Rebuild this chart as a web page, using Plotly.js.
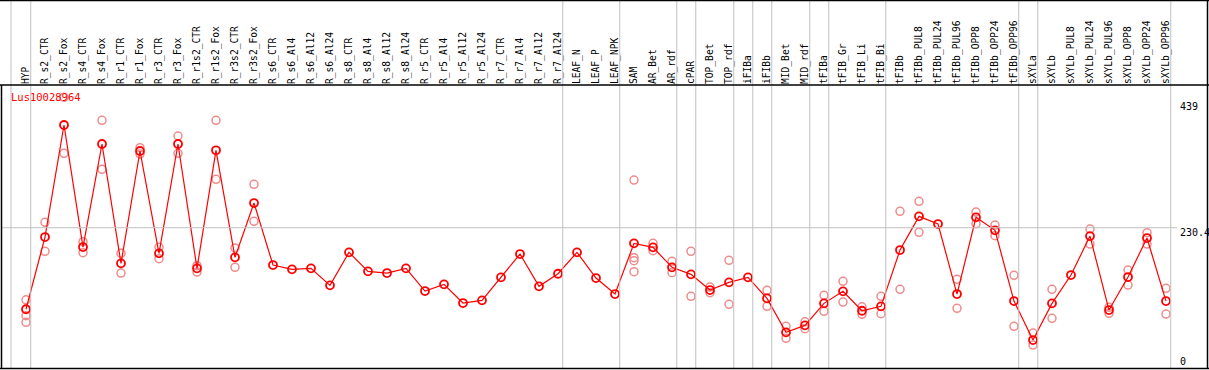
<!DOCTYPE html>
<html>
<head>
<meta charset="utf-8">
<script src="https://cdn.plot.ly/plotly-3.0.1.min.js"></script>
<style>
html,body{margin:0;padding:0;background:#fff;}
#chart{width:1209px;height:370px;}
</style>
</head>
<body>
<div id="chart"></div>
<script>
const geneName = "Lus10028964";
const categories = ["HYP","R_s2_CTR","R_s2_Fox","R_s4_CTR","R_s4_Fox","R_r1_CTR","R_r1_Fox","R_r3_CTR","R_r3_Fox","R_r1s2_CTR","R_r1s2_Fox","R_r3s2_CTR","R_r3s2_Fox","R_s6_CTR","R_s6_Al4","R_s6_Al12","R_s6_Al24","R_s8_CTR","R_s8_Al4","R_s8_Al12","R_s8_Al24","R_r5_CTR","R_r5_Al4","R_r5_Al12","R_r5_Al24","R_r7_CTR","R_r7_Al4","R_r7_Al12","R_r7_Al24","LEAF_N","LEAF_P","LEAF_NPK","SAM","AR_Bet","AR_rdf","cPAR","TOP_Bet","TOP_rdf","iFIBa","iFIBb","MID_Bet","MID_rdf","tFIBa","tFIB_Gr","tFIB_Li","tFIB_Bi","tFIBb","tFIBb_PUL8","tFIBb_PUL24","tFIBb_PUL96","tFIBb_OPP8","tFIBb_OPP24","tFIBb_OPP96","sXYLa","sXYLb","sXYLb_PUL8","sXYLb_PUL24","sXYLb_PUL96","sXYLb_OPP8","sXYLb_OPP24","sXYLb_OPP96"];
const meanValues = [100,215.5,394.7,199.5,364.3,173.4,353.1,189.4,364.3,165.4,354.2,183,269.9,170.7,163.8,165.4,138.2,191,160.6,157.9,165.4,129.1,139.8,109.9,114.2,151,188.3,136.6,156.8,191,149.9,124.3,205.4,199,167,155.8,130.7,143,151,117.4,63,74.2,109.4,128.6,97.6,104.6,194.7,248.6,236.3,124.3,247,226.2,113.1,50.7,109.4,154.7,217,98.7,151.5,213.9,113.1];
const rep1 = [115,239,439,208,402.2,189.4,358.4,199,377.1,169.6,402.2,198,299.8,null,null,null,null,null,null,null,null,null,null,null,null,null,null,null,null,null,null,null,306.7,205.4,176.6,192.6,135.5,178.2,null,130.2,72.6,80,122.2,144.6,104,120.6,256.6,272.6,null,147.8,255.5,234.7,154.2,62,131.8,null,228.3,103,162.7,222.4,133.4];
const rep2 = [89.6,192.6,349.4,190.4,323.8,157.9,348.3,180.8,349.4,159.5,307.8,167,240.6,null,null,null,null,null,null,null,null,null,null,null,null,null,null,null,null,null,null,null,182.4,193.6,158.4,120.6,126.4,107.8,null,104.6,53.4,68.8,96.6,111.5,91.8,92.8,131.8,223,null,101.4,236.8,217.6,72.6,42.7,85.4,null,204.3,93.4,138.7,204.3,92.2];
const rep3 = [79,null,null,null,null,null,null,null,null,null,null,null,null,null,null,null,null,null,null,null,null,null,null,null,null,null,null,null,null,null,null,null,177.6,null,null,null,null,null,null,null,null,null,null,null,null,null,null,null,null,null,null,null,null,null,null,null,null,null,null,null,null];
const rep4 = [null,null,null,null,null,null,null,null,null,null,null,null,null,null,null,null,null,null,null,null,null,null,null,null,null,null,null,null,null,null,null,null,160,null,null,null,null,null,null,null,null,null,null,null,null,null,null,null,null,null,null,null,null,null,null,null,null,null,null,null,null];
const groupEnds = ["HYP","R_r7_Al24","LEAF_NPK","AR_rdf","cPAR","TOP_rdf","iFIBa","iFIBb","MID_rdf","tFIBa","tFIB_Bi","tFIBb_OPP96","sXYLa","sXYLb_OPP96"];
const refValue = 230.4;
const axisLabels = ["439","230.4","0"];

const idx = categories.map((c,i)=>i);
const W = 1209, H = 370, L = 1, R = 1, T = 85, B = 2;
const PW = W - L - R, PH = H - T - B;
const yRange = [6.0, 458.7];
const xRange = [-1.3158, 62.2105];
const py = px => (H - B - px) / PH;      // pixel y -> paper y
const pxx = px => (px - L) / PW;         // pixel x -> paper x

const repTraces = [rep1, rep2, rep3, rep4].map(r => ({
  x: idx, y: r, type: 'scatter', mode: 'markers', hoverinfo: 'skip',
  marker: {symbol: 'circle-open', size: 8, color: 'rgb(238,140,140)', line: {width: 1.5, color: 'rgb(238,140,140)'}},
  cliponaxis: false, showlegend: false
}));
const meanTrace = {
  x: idx, y: meanValues, type: 'scatter', mode: 'lines+markers',
  line: {color: '#ff0000', width: 1.2},
  marker: {symbol: 'circle-open', size: 8, color: '#ff0000', line: {width: 1.8, color: '#ff0000'}},
  cliponaxis: false, showlegend: false
};

const shapes = [];
const grey = '#c0c0c0';
shapes.push({type:'line', xref:'x', yref:'paper', x0:-0.79, x1:-0.79, y0:0, y1:py(0), line:{color:grey,width:1}});
groupEnds.forEach(g => {
  const i = categories.indexOf(g);
  shapes.push({type:'line', xref:'x', yref:'paper', x0:i+0.25, x1:i+0.25, y0:0, y1:py(0), line:{color:grey,width:1}});
});
shapes.push({type:'line', xref:'paper', yref:'y', x0:0, x1:pxx(1177), y0:refValue, y1:refValue, line:{color:grey,width:1}});
const blk = {color:'#000', width:1.5};
shapes.push({type:'line', xref:'paper', yref:'paper', x0:pxx(0), x1:pxx(1209), y0:py(0.5), y1:py(0.5), line:blk});
shapes.push({type:'line', xref:'paper', yref:'paper', x0:pxx(0), x1:pxx(1209), y0:py(85), y1:py(85), line:blk});
shapes.push({type:'line', xref:'paper', yref:'paper', x0:pxx(0), x1:pxx(1209), y0:py(368.5), y1:py(368.5), line:blk});
shapes.push({type:'line', xref:'paper', yref:'paper', x0:pxx(1.5), x1:pxx(1.5), y0:py(85), y1:py(369), line:blk});
shapes.push({type:'line', xref:'paper', yref:'paper', x0:pxx(1207.5), x1:pxx(1207.5), y0:py(0), y1:py(369), line:blk});

const mono = 'DejaVu Sans Mono, monospace';
const annotations = [
  {text: geneName, xref:'paper', yref:'paper', x:pxx(9), y:py(96.7), xanchor:'left', yanchor:'middle', showarrow:false, font:{family:mono, size:10.5, color:'#ff0000'}},
  {text: axisLabels[0], xref:'paper', yref:'paper', x:pxx(1178), y:py(106.7), xanchor:'left', yanchor:'middle', showarrow:false, font:{family:mono, size:10, color:'#000'}},
  {text: axisLabels[1], xref:'paper', yref:'paper', x:pxx(1178), y:py(232.3), xanchor:'left', yanchor:'middle', showarrow:false, font:{family:mono, size:10, color:'#000'}},
  {text: axisLabels[2], xref:'paper', yref:'paper', x:pxx(1178), y:py(361.7), xanchor:'left', yanchor:'middle', showarrow:false, font:{family:mono, size:10, color:'#000'}}
];

const layout = {
  width: W, height: H,
  margin: {l:L, r:R, t:T, b:B, pad:0},
  paper_bgcolor: '#fff', plot_bgcolor: '#fff',
  xaxis: {range: xRange, side: 'top', tickmode: 'array', tickvals: idx, ticktext: categories,
          tickangle: -90, showgrid: false, zeroline: false, showline: false, ticks: '',
          ticklabelstandoff: 0, tickfont: {family: mono, size: 9.6, color: '#000'}, fixedrange: true},
  yaxis: {range: yRange, showgrid: false, zeroline: false, showticklabels: false, ticks: '', showline: false, fixedrange: true},
  shapes: shapes, annotations: annotations, showlegend: false
};

Plotly.newPlot('chart', [...repTraces, meanTrace], layout, {displayModeBar: false, staticPlot: true});
</script>
</body>
</html>
